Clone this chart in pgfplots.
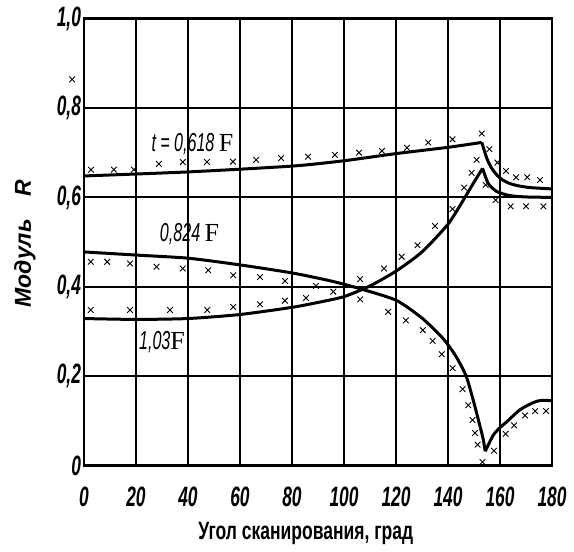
\documentclass[border=0pt]{standalone}
\usepackage{fontspec}
\usepackage{pgfplots}
\pgfplotsset{compat=1.18}
\setmainfont{Liberation Sans}
\newfontfamily\tickfont{Liberation Sans}[FakeStretch=0.62]
\newfontfamily\labfont{Liberation Sans}[FakeStretch=0.7]
\newfontfamily\serifF{Liberation Serif}

\pgfplotsset{
  curve/.style={black, line width=1.5pt, smooth, tension=0.4, no marks},
  pts/.style={only marks, mark=x, mark size=2pt, mark options={black, line width=0.45pt}},
}

\begin{document}
\begin{tikzpicture}
\begin{axis}[
  scale only axis,
  width=234pt, height=223.5pt,
  xmin=0, xmax=180, ymin=0, ymax=1,
  xtick={0,20,40,60,80,100,120,140,160,180},
  ytick={0,0.2,0.4,0.6,0.8,1},
  xticklabels={0,20,40,60,80,100,120,140,160,180},
  yticklabels={0,{0,2},{0,4},{0,6},{0,8},{1,0}},
  grid=major,
  major grid style={black, line width=0.9pt},
  axis line style={line width=1.4pt},
  major tick length=0pt,
  tick label style={font=\fontsize{14}{14}\selectfont\tickfont\bfseries\itshape},
  xticklabel style={yshift=-7pt},
  yticklabel style={xshift=2pt},
  xlabel={\labfont\bfseries Угол сканирования, град},
  xlabel style={at={(axis description cs:0.474,-0.152)}, anchor=center, font=\fontsize{12.5}{12.5}\selectfont},
  ylabel={\bfseries\itshape Модуль\quad R},
  ylabel style={at={(axis description cs:-0.126,0.497)}, anchor=center, font=\fontsize{11.5}{11.5}\selectfont},
  clip=false,
]
% t = 0,618 F
\addplot[curve] coordinates {(0,0.648)(40,0.657)(80,0.670)(100,0.682)(120,0.698)(140,0.712)(153,0.723)};
\addplot[curve] coordinates {(153,0.723)(154.9,0.688)(156.5,0.668)(158.8,0.650)(161,0.639)(163.8,0.631)(167,0.626)(171.5,0.622)(180,0.619)};
\addplot[pts] coordinates {(2.7,0.662)(11.5,0.662)(19.2,0.662)(28.8,0.675)(38,0.679)(47.3,0.679)(57.3,0.680)(66.2,0.684)(75.8,0.688)(86.2,0.691)(96.5,0.695)(105.8,0.700)(114.6,0.704)(124.2,0.711)(132.4,0.723)(141.7,0.730)(153,0.743)(155.9,0.708)(159,0.678)(162.3,0.659)(166.2,0.645)(170.5,0.645)(175.4,0.639)};
% 0,824 F
\addplot[curve] coordinates {(0,0.478)(20,0.471)(40,0.464)(60,0.449)(80,0.431)(95,0.413)(106,0.396)(120,0.370)(130,0.330)(138,0.285)(143,0.245)(147,0.200)(150,0.140)(152,0.095)(153.5,0.060)(154.3,0.032)};
\addplot[curve] coordinates {(154.3,0.032)(157.4,0.068)(160,0.085)(162.6,0.098)(167.7,0.125)(172.8,0.141)(176,0.146)(180,0.145)};
\addplot[pts] coordinates {(2.6,0.456)(8.9,0.456)(17.7,0.452)(27.9,0.445)(38,0.441)(47.8,0.437)(57.4,0.426)(67.7,0.422)(77.3,0.413)(89.2,0.402)(106.2,0.372)(117,0.344)(123.8,0.325)(130.3,0.303)(134.1,0.279)(137.6,0.249)(141.8,0.218)(145.6,0.171)(147.8,0.135)(149.4,0.102)(150.4,0.073)(151.4,0.047)(153.3,0.008)(157.7,0.033)(162.2,0.071)(165.4,0.090)(169.6,0.112)(173.5,0.122)(177.7,0.122)};
% 1,03 F
\addplot[curve] coordinates {(0,0.329)(20,0.327)(40,0.329)(60,0.338)(80,0.354)(90,0.365)(100,0.378)(110,0.402)(120,0.435)(130,0.478)(140,0.540)(146,0.595)(150,0.634)(153.3,0.665)};
\addplot[curve] coordinates {(153.3,0.665)(155.5,0.631)(158.8,0.613)(163.8,0.604)(170,0.601)(180,0.600)};
\addplot[pts] coordinates {(2.6,0.348)(17.7,0.348)(33.1,0.348)(47.4,0.348)(57.4,0.355)(67.7,0.361)(77.3,0.369)(85.4,0.375)(95.9,0.389)(106.2,0.417)(115.4,0.441)(122.2,0.467)(128.3,0.493)(135,0.536)(141.7,0.574)(146.2,0.622)(149.1,0.655)(151,0.684)(154.5,0.628)(158.3,0.594)(164.1,0.580)(170,0.580)(176.7,0.580)};
% stray point left of the axis
\addplot[pts] coordinates {(-4.6,0.864)};

\node at (axis cs:41.7,0.72) {\fontsize{13}{13}\selectfont\tickfont\itshape t\,=\,0,618\,{\serifF\upshape F}};
\node at (axis cs:40.6,0.518) {\fontsize{13}{13}\selectfont\tickfont\itshape 0,824\,{\serifF\upshape F}};
\node at (axis cs:30,0.277) {\fontsize{13}{13}\selectfont\tickfont\itshape 1,03{\serifF\upshape F}};

\path ([xshift=-42pt,yshift=-41pt]axis cs:0,0) rectangle ([xshift=11pt,yshift=7.5pt]axis cs:180,1);
\end{axis}
\end{tikzpicture}
\end{document}
